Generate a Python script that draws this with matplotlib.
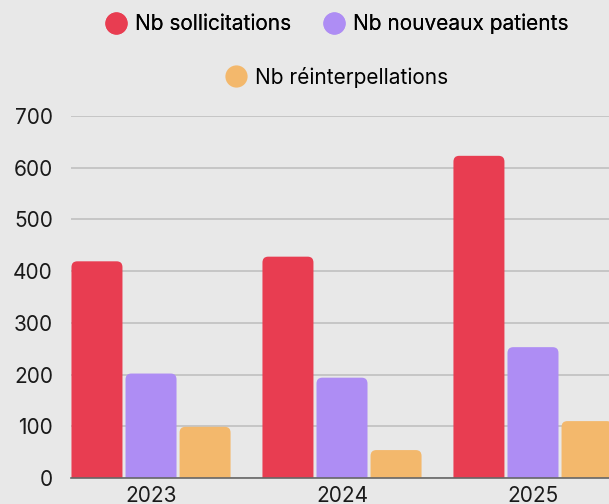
import numpy as np
import matplotlib.pyplot as plt
from matplotlib.patches import FancyBboxPatch
from matplotlib.lines import Line2D

plt.rcParams['font.family'] = ['Inter', 'DejaVu Sans']

# donnees
annees = ['2023', '2024', '2025']
sollicitations = [419, 428, 623]
nouveaux_patients = [202, 194, 253]
reinterpellations = [99, 54, 110]

series = [sollicitations, nouveaux_patients, reinterpellations]
noms = ['Nb sollicitations', 'Nb nouveaux patients', 'Nb réinterpellations']
couleurs = ['#E83D51', '#AE8DF4', '#F3B86C']
fond = '#E8E8E8'

fig = plt.figure(figsize=(6.09, 5.04), dpi=100, facecolor=fond)
ax = fig.add_axes([71/609, 1 - 478/504, 1 - 71/609, (478 - 116)/504])
ax.set_facecolor(fond)

x = np.arange(len(annees))
largeur = 0.267
pas = 0.283

## barres arrondies en haut
for i, (vals, c) in enumerate(zip(series, couleurs)):
    bars = ax.bar(x + (i - 1) * pas, vals, largeur, color=c)
    for b in bars:
        b.set_visible(False)
        p = FancyBboxPatch((b.get_x(), -30), b.get_width(), b.get_height() + 30,
                           boxstyle='round,pad=0,rounding_size=0.03',
                           mutation_aspect=380, fc=c, ec='none', zorder=3)
        ax.add_patch(p)

ax.set_xlim(-0.419, 2.398)
ax.set_ylim(0, 700)
ax.set_yticks(range(0, 701, 100))
ax.set_xticks(x)
ax.set_xticklabels(annees)
ax.yaxis.grid(True, color='#C0C0C0', lw=1.2, zorder=0)
ax.set_axisbelow(True)
for s in ['top', 'right', 'left']:
    ax.spines[s].set_visible(False)
ax.spines['bottom'].set_color('#666666')
ax.spines['bottom'].set_linewidth(1.2)
ax.spines['bottom'].set_zorder(4)
ax.tick_params(axis='y', length=0, pad=13, labelsize=15, labelcolor='#1a1a1a')
ax.tick_params(axis='x', length=0, pad=6, labelsize=15, labelcolor='#1a1a1a')

## legende
poignees = [Line2D([], [], ls='none', marker='o', ms=16, mfc=c, mec='none') for c in couleurs]
leg1 = fig.legend(poignees[:2], noms[:2], ncol=2, loc='center',
                  bbox_to_anchor=(336/609, 1 - 24/504), frameon=False,
                  fontsize=15, handletextpad=0.3, columnspacing=1.5, handlelength=1.2)
leg2 = fig.legend(poignees[2:], noms[2:], loc='center',
                  bbox_to_anchor=(336/609, 1 - 77/504), frameon=False,
                  fontsize=15, handletextpad=0.3, handlelength=1.2)
fig.add_artist(leg1)

fig.savefig('out.png', dpi=100, facecolor=fond)
